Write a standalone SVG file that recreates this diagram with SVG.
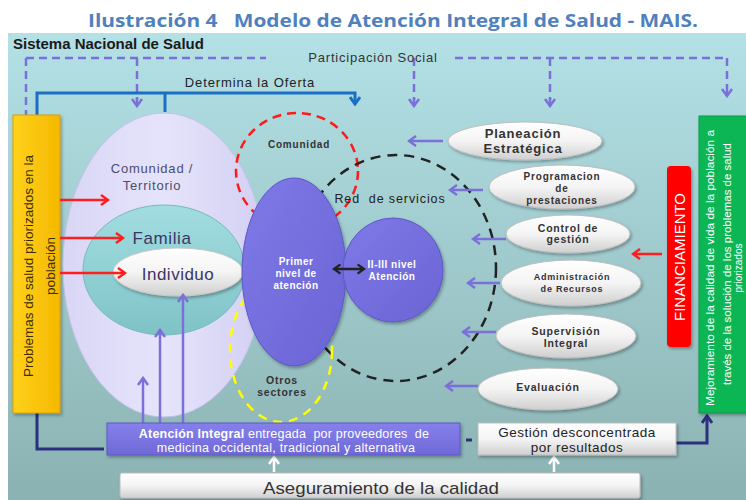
<svg xmlns="http://www.w3.org/2000/svg" width="746" height="500" viewBox="0 0 746 500">
<defs>
<style>
.t{font-family:"Liberation Sans",Arial,sans-serif}
.lbl{font-family:"Liberation Sans",Arial,sans-serif;font-weight:bold;fill:#333;text-anchor:middle;letter-spacing:0.8px}
.wl{font-family:"Liberation Sans",Arial,sans-serif;font-weight:bold;fill:#fff;text-anchor:middle;letter-spacing:0.5px;font-size:10px}
.pd{fill:none;stroke:#7b70d8;stroke-width:2.5;stroke-dasharray:8 5}
.pa{fill:none;stroke:#7b70d8;stroke-width:2.5}
.ra{fill:none;stroke:#ff1e1e;stroke-width:2.5}
.bl{fill:none;stroke:#1a6fc4;stroke-width:3}
.nv{fill:none;stroke:#2b2f7c;stroke-width:3}
.we{fill:url(#gWhite);stroke:#bdbdbd;stroke-width:1;filter:url(#sh)}
</style>
<linearGradient id="gPanel" x1="0" y1="0" x2="0" y2="1"><stop offset="0" stop-color="#b3e1e6"/><stop offset="1" stop-color="#8bb2b2"/></linearGradient>
<linearGradient id="gWhite" x1="0" y1="0" x2="0" y2="1"><stop offset="0" stop-color="#ffffff"/><stop offset="0.5" stop-color="#f4f4f4"/><stop offset="1" stop-color="#cfcfcf"/></linearGradient>
<linearGradient id="gYel" x1="0" y1="0" x2="1" y2="0"><stop offset="0" stop-color="#ffd21a"/><stop offset="1" stop-color="#f5b800"/></linearGradient>
<linearGradient id="gLav" x1="0" y1="0" x2="1" y2="0"><stop offset="0" stop-color="#d9d6f6"/><stop offset="0.5" stop-color="#e6e4fb"/><stop offset="1" stop-color="#d2cff3"/></linearGradient>
<linearGradient id="gTeal" x1="0" y1="0" x2="0" y2="1"><stop offset="0" stop-color="#a2dde0"/><stop offset="1" stop-color="#7fc3c7"/></linearGradient>
<linearGradient id="gPur" x1="0" y1="0" x2="1" y2="1"><stop offset="0" stop-color="#7f79e8"/><stop offset="1" stop-color="#6a64d4"/></linearGradient>
<linearGradient id="gBox" x1="0" y1="0" x2="0" y2="1"><stop offset="0" stop-color="#8680ea"/><stop offset="1" stop-color="#6f69d8"/></linearGradient>
<filter id="sh" x="-20%" y="-20%" width="140%" height="150%"><feDropShadow dx="1.5" dy="2" stdDeviation="1.5" flood-color="#000" flood-opacity="0.3"/></filter>
<marker id="mRed" viewBox="0 0 12 12" refX="10" refY="6" markerWidth="12" markerHeight="12" orient="auto" markerUnits="userSpaceOnUse"><path d="M3,1 L10,6 L3,11" fill="none" stroke="#ff1e1e" stroke-width="2.5"/></marker>
<marker id="mPur" viewBox="0 0 12 12" refX="10" refY="6" markerWidth="12" markerHeight="12" orient="auto" markerUnits="userSpaceOnUse"><path d="M3,1 L10,6 L3,11" fill="none" stroke="#7b70d8" stroke-width="2.5"/></marker>
<marker id="mBlue" viewBox="0 0 12 12" refX="10" refY="6" markerWidth="12" markerHeight="12" orient="auto" markerUnits="userSpaceOnUse"><path d="M3,1 L10,6 L3,11" fill="none" stroke="#1a6fc4" stroke-width="3"/></marker>
<marker id="mNavy" viewBox="0 0 12 12" refX="10" refY="6" markerWidth="12" markerHeight="12" orient="auto" markerUnits="userSpaceOnUse"><path d="M3,1 L10,6 L3,11" fill="none" stroke="#2b2f7c" stroke-width="3"/></marker>
<marker id="mWhite" viewBox="0 0 12 12" refX="10" refY="6" markerWidth="12" markerHeight="12" orient="auto" markerUnits="userSpaceOnUse"><path d="M3,1 L10,6 L3,11" fill="none" stroke="#ffffff" stroke-width="2.5"/></marker>
<marker id="mBlk" viewBox="0 0 12 12" refX="10" refY="6" markerWidth="11" markerHeight="11" orient="auto-start-reverse" markerUnits="userSpaceOnUse"><path d="M3,1 L10,6 L3,11" fill="none" stroke="#222" stroke-width="2.5"/></marker>
</defs>

<rect x="0" y="0" width="746" height="500" fill="#ffffff"/>
<text xml:space="preserve" x="393" y="27" font-family="'Open Sans','Liberation Sans',sans-serif" font-weight="bold" font-size="18.5" fill="#4f81bd" text-anchor="middle" textLength="610" lengthAdjust="spacingAndGlyphs">Ilustración 4   Modelo de Atención Integral de Salud - MAIS.</text>

<g id="panel">
<rect x="8" y="33" width="738" height="467" fill="url(#gPanel)"/>
<text class="t" x="13" y="49" font-size="15" font-weight="bold" fill="#1a1a1a">Sistema Nacional de Salud</text>
</g>

<g id="connectors">
<path class="pd" d="M26,58 H266"/>
<path class="pd" d="M455,58 H727"/>
<path class="pd" d="M26,58 V115"/>
<path class="pd" d="M137,58 V100"/>
<path class="pd" d="M414,58 V100"/>
<path class="pd" d="M550,58 V100"/>
<path class="pd" d="M727,58 V88"/>
<path class="pa" d="M137,98 V106" marker-end="url(#mPur)"/>
<path class="pa" d="M414,98 V106" marker-end="url(#mPur)"/>
<path class="pa" d="M550,98 V106" marker-end="url(#mPur)"/>
<path class="pa" d="M727,88 V96" marker-end="url(#mPur)"/>
<path class="bl" d="M37,115 V93 H355 V104" marker-end="url(#mBlue)"/>
<path class="bl" d="M165,93 V112"/>
<path class="nv" d="M37,413 V449 H104"/>
<path class="nv" d="M466,440 H472"/>
<path class="nv" d="M676,443 H707 V416" marker-end="url(#mNavy)"/>
</g>

<g id="problemas">
<rect x="13" y="115" width="47" height="298" fill="url(#gYel)" stroke="#d9a000" stroke-width="1" filter="url(#sh)"/>
<g transform="translate(33,266) rotate(-90)"><text class="t" x="0" y="0" font-size="13.5" fill="#3b2c00" text-anchor="middle">Problemas de salud priorizados en la</text></g>
<g transform="translate(55,266) rotate(-90)"><text class="t" x="0" y="0" font-size="13.5" fill="#3b2c00" text-anchor="middle">población</text></g>
</g>

<g id="comunidad-territorio">
<ellipse cx="164" cy="265" rx="101" ry="152" fill="url(#gLav)" stroke="#c6c2ec" stroke-width="1"/>
<text class="t" x="152" y="173" font-size="13" fill="#4d4d6b" text-anchor="middle" letter-spacing="0.8">Comunidad /</text>
<text class="t" x="152" y="190" font-size="13" fill="#4d4d6b" text-anchor="middle" letter-spacing="0.8">Territorio</text>
</g>

<g id="familia">
<ellipse cx="164" cy="270" rx="81" ry="65" fill="url(#gTeal)" stroke="#78b9bd" stroke-width="1"/>
<text class="t" x="162" y="244" font-size="17" fill="#3c3466" text-anchor="middle" letter-spacing="0.6">Familia</text>
</g>

<g id="individuo">
<ellipse cx="178" cy="272" rx="65" ry="24" fill="url(#gWhite)" stroke="#c8c8c8" stroke-width="1" filter="url(#sh)"/>
<text class="t" x="178" y="280" font-size="17" fill="#3c3466" text-anchor="middle" letter-spacing="0.5">Individuo</text>
</g>

<g id="comunidad">
<ellipse cx="297" cy="171" rx="61" ry="58" fill="none" stroke="#ff1a1a" stroke-width="2.5" stroke-dasharray="9 6"/>
<text class="lbl" x="299" y="148" font-size="10">Comunidad</text>
</g>

<g id="red-servicios">
<ellipse cx="396" cy="268" rx="100" ry="113" fill="none" stroke="#222" stroke-width="2.5" stroke-dasharray="10 7"/>
<text xml:space="preserve" class="t" x="390" y="203" font-size="12.5" fill="#222" text-anchor="middle" letter-spacing="0.9">Red  de servicios</text>
</g>

<g id="otros-sectores">
<ellipse cx="281" cy="350" rx="51" ry="72" fill="none" stroke="#ffff00" stroke-width="2.5" stroke-dasharray="9 7"/>
<text class="lbl" x="282" y="384" font-size="10.5" font-weight="normal" letter-spacing="0.6">Otros</text>
<text class="lbl" x="282" y="396" font-size="10.5" font-weight="normal" letter-spacing="0.6">sectores</text>
</g>

<g id="primer-nivel">
<ellipse cx="294" cy="272" rx="52" ry="94" fill="url(#gPur)" stroke="#5e58c4" stroke-width="1" filter="url(#sh)"/>
<text class="wl" x="296" y="265">Primer</text>
<text class="wl" x="296" y="277">nivel de</text>
<text class="wl" x="296" y="289">atención</text>
</g>

<g id="segundo-nivel">
<ellipse cx="393" cy="270" rx="50" ry="52" fill="url(#gPur)" stroke="#5e58c4" stroke-width="1" filter="url(#sh)"/>
<text class="wl" x="392" y="268">II-III nivel</text>
<text class="wl" x="392" y="280">Atención</text>
</g>

<g id="connectors-inner">
<path d="M334,269 H364" fill="none" stroke="#222" stroke-width="2.5" marker-start="url(#mBlk)" marker-end="url(#mBlk)"/>
<path class="ra" d="M60,200 H108" marker-end="url(#mRed)"/>
<path class="ra" d="M60,238 H123" marker-end="url(#mRed)"/>
<path class="ra" d="M60,273 H125" marker-end="url(#mRed)"/>
<path class="pa" d="M143,423 V378" marker-end="url(#mPur)"/>
<path class="pa" d="M160,423 V330" marker-end="url(#mPur)"/>
<path class="pa" d="M183,423 V295" marker-end="url(#mPur)"/>
<path class="pa" d="M443,141 H409" marker-end="url(#mPur)"/>
<path class="pa" d="M483,190 H450" marker-end="url(#mPur)"/>
<path class="pa" d="M506,239 H473" marker-end="url(#mPur)"/>
<path class="pa" d="M500,283 H468" marker-end="url(#mPur)"/>
<path class="pa" d="M496,332 H463" marker-end="url(#mPur)"/>
<path class="pa" d="M478,386 H446" marker-end="url(#mPur)"/>
<path class="ra" d="M662,254 H633" marker-end="url(#mRed)"/>
<path d="M274,472 V457" fill="none" stroke="#fff" stroke-width="2.5" marker-end="url(#mWhite)"/>
<path d="M554,472 V457" fill="none" stroke="#fff" stroke-width="2.5" marker-end="url(#mWhite)"/>
</g>

<g id="planeacion">
<ellipse class="we" cx="525" cy="141" rx="77" ry="19"/>
<text class="lbl" x="523" y="138" font-size="13" letter-spacing="1">Planeación</text>
<text class="lbl" x="523" y="153" font-size="13" letter-spacing="1">Estratégica</text>
</g>

<g id="programacion">
<ellipse class="we" cx="562" cy="187" rx="73" ry="22"/>
<text class="lbl" x="562" y="180" font-size="10">Programacion</text>
<text class="lbl" x="562" y="192" font-size="10">de</text>
<text class="lbl" x="562" y="204" font-size="10">prestaciones</text>
</g>

<g id="control">
<ellipse class="we" cx="568" cy="234" rx="62" ry="19"/>
<text class="lbl" x="568" y="232" font-size="10.5">Control de</text>
<text class="lbl" x="568" y="243" font-size="10.5">gestión</text>
</g>

<g id="administracion">
<ellipse class="we" cx="571" cy="283" rx="70" ry="23"/>
<text class="lbl" x="572" y="280" font-size="9" letter-spacing="1">Administración</text>
<text class="lbl" x="572" y="292" font-size="9" letter-spacing="1">de Recursos</text>
</g>

<g id="supervision">
<ellipse class="we" cx="566" cy="336" rx="70" ry="22"/>
<text class="lbl" x="566" y="335" font-size="10.5">Supervisión</text>
<text class="lbl" x="566" y="347" font-size="10.5">Integral</text>
</g>

<g id="evaluacion">
<ellipse class="we" cx="548" cy="389" rx="70" ry="21"/>
<text class="lbl" x="548" y="391" font-size="10.5">Evaluación</text>
</g>

<g id="financiamiento">
<rect x="667" y="166" width="24" height="181" rx="4" fill="#ff0000" filter="url(#sh)"/>
<g transform="translate(684.5,257) rotate(-90)"><text class="t" x="0" y="0" font-size="15" fill="#fff" text-anchor="middle">FINANCIAMIENTO</text></g>
</g>

<g id="mejoramiento">
<rect x="699" y="116" width="50" height="297" fill="#0fb654" stroke="#0a9a45" stroke-width="1" filter="url(#sh)"/>
<g transform="translate(714,268) rotate(-90)"><text class="t" x="0" y="0" font-size="11.5" fill="#fff" text-anchor="middle" textLength="276" lengthAdjust="spacingAndGlyphs">Mejoramiento de la calidad de vida de la población a</text></g>
<g transform="translate(731,264) rotate(-90)"><text class="t" x="0" y="0" font-size="11.5" fill="#fff" text-anchor="middle" textLength="242" lengthAdjust="spacingAndGlyphs">través de la solución de los problemas de salud</text></g>
<g transform="translate(742,268) rotate(-90)"><text class="t" x="0" y="0" font-size="10" fill="#fff" text-anchor="middle">priorizados</text></g>
</g>

<g id="atencion-integral">
<rect x="107" y="423" width="353" height="32" fill="url(#gBox)" stroke="#5e58c4" stroke-width="1" filter="url(#sh)"/>
<text xml:space="preserve" class="t" x="284" y="438" font-size="12.5" fill="#fff" text-anchor="middle" letter-spacing="0.2"><tspan font-weight="bold">Atención Integral</tspan> entregada  por proveedores  de</text>
<text class="t" x="286" y="452" font-size="12.5" fill="#fff" text-anchor="middle" letter-spacing="0.3">medicina occidental, tradicional y alternativa</text>
</g>

<g id="gestion">
<rect x="478" y="423" width="198" height="32" fill="url(#gWhite)" stroke="#bdbdbd" stroke-width="1" filter="url(#sh)"/>
<text class="t" x="577" y="437" font-size="13.5" fill="#222" text-anchor="middle" letter-spacing="0.5">Gestión desconcentrada</text>
<text class="t" x="577" y="452" font-size="13.5" fill="#222" text-anchor="middle" letter-spacing="0.5">por resultados</text>
</g>

<g id="aseguramiento">
<rect x="120" y="473" width="520" height="25" rx="2" fill="url(#gWhite)" stroke="#bdbdbd" stroke-width="1" filter="url(#sh)"/>
<text class="t" x="381" y="494" font-size="17" fill="#333" text-anchor="middle" textLength="236" lengthAdjust="spacingAndGlyphs">Aseguramiento de la calidad</text>
</g>

<g id="participacion-label">
<text class="t" x="373" y="62" font-size="13" fill="#333" text-anchor="middle" letter-spacing="0.8">Participación Social</text>
</g>
<g id="determina-label">
<text class="t" x="250" y="87" font-size="13" fill="#222" text-anchor="middle" letter-spacing="0.9">Determina la Oferta</text>
</g>
</svg>
